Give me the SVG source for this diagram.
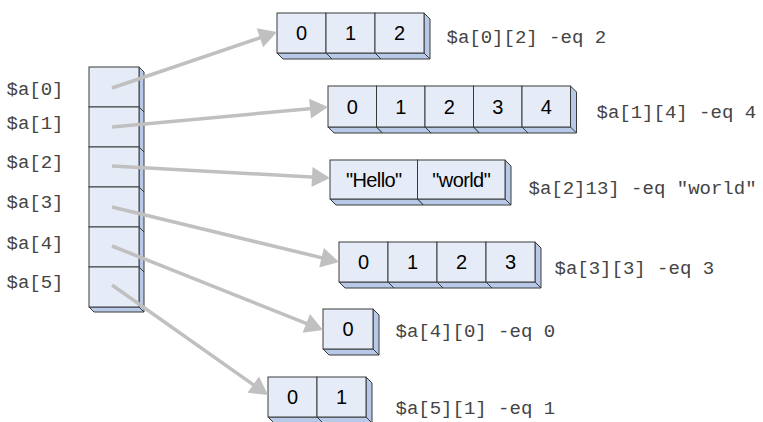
<svg xmlns="http://www.w3.org/2000/svg" xmlns:xlink="http://www.w3.org/1999/xlink" width="763" height="422" viewBox="0 0 763 422">
<style>
.f{fill:#e6ecf7;stroke:#3a3a3a;stroke-width:1}
.s{fill:#b7c9e6;stroke:#3a3a3a;stroke-width:1;stroke-linejoin:miter}
.e{fill:none;stroke:#3a3a3a;stroke-width:1}
.v{font-family:"Liberation Sans",Arial,sans-serif;font-size:20px;fill:#000;text-anchor:middle}
.m{font-family:"Liberation Mono","Courier New",monospace;font-size:19px;fill:#444}
.c{fill:none;stroke:#c0c0c0;stroke-width:3.5}
</style>
<defs>
<marker id="ah" markerUnits="userSpaceOnUse" markerWidth="20" markerHeight="22" refX="8" refY="10" orient="auto" overflow="visible">
<path d="M0,0 L18,10 L0,20 z" fill="#c0c0c0"/>
</marker>
<g id="k50"><path class="s" d="M50,0 L55,5 L55,45 L5,45 L0,40 L50,40 Z"/><path class="e" d="M50,40 L55,45"/><rect class="f" x="0" y="0" width="50" height="40"/></g>
<g id="k49"><path class="s" d="M49,0 L55,6 L55,46 L6,46 L0,40 L49,40 Z"/><path class="e" d="M49,40 L55,46"/><rect class="f" x="0" y="0" width="49" height="40"/></g>
<g id="k48"><path class="s" d="M48.5,0 L54.5,6 L54.5,47 L6,47 L0,41 L48.5,41 Z"/><path class="e" d="M48.5,41 L54.5,47"/><rect class="f" x="0" y="0" width="48.5" height="41"/></g>
<g id="k87"><path class="s" d="M87.5,0 L93.5,6 L93.5,45 L6,45 L0,39 L87.5,39 Z"/><path class="e" d="M87.5,39 L93.5,45"/><rect class="f" x="0" y="0" width="87.5" height="39"/></g>
<g id="k50b"><path class="s" d="M50,0 L56,6 L56,46 L6,46 L0,40 L50,40 Z"/><path class="e" d="M50,40 L56,46"/><rect class="f" x="0" y="0" width="50" height="40"/></g>
</defs>
<rect width="763" height="422" fill="#fff"/>

<g id="a">
<use xlink:href="#k50" x="89" y="67"/>
<use xlink:href="#k50" x="89" y="107"/>
<use xlink:href="#k50" x="89" y="147"/>
<use xlink:href="#k50" x="89" y="187"/>
<use xlink:href="#k50" x="89" y="227"/>
<use xlink:href="#k50" x="89" y="267"/>
<text class="m" x="6.5" y="95">$a[0]</text>
<text class="m" x="6.5" y="129">$a[1]</text>
<text class="m" x="6.5" y="168">$a[2]</text>
<text class="m" x="6.5" y="208">$a[3]</text>
<text class="m" x="6.5" y="249">$a[4]</text>
<text class="m" x="6.5" y="288">$a[5]</text>
</g>

<g id="a0">
<use xlink:href="#k49" x="277" y="13"/>
<use xlink:href="#k49" x="326" y="13"/>
<use xlink:href="#k49" x="375" y="13"/>
<text class="v" x="301.5" y="40.2">0</text>
<text class="v" x="350.5" y="40.2">1</text>
<text class="v" x="399.5" y="40.2">2</text>
<text class="m" x="446.5" y="43">$a[0][2] -eq 2</text>
</g>

<g id="a1">
<use xlink:href="#k48" x="328" y="86"/>
<use xlink:href="#k48" x="376.5" y="86"/>
<use xlink:href="#k48" x="425" y="86"/>
<use xlink:href="#k48" x="473.5" y="86"/>
<use xlink:href="#k48" x="522" y="86"/>
<text class="v" x="352.25" y="113.7">0</text>
<text class="v" x="400.75" y="113.7">1</text>
<text class="v" x="449.25" y="113.7">2</text>
<text class="v" x="497.75" y="113.7">3</text>
<text class="v" x="546.25" y="113.7">4</text>
<text class="m" x="596.5" y="118">$a[1][4] -eq 4</text>
</g>

<g id="a2">
<use xlink:href="#k87" x="330" y="160"/>
<use xlink:href="#k87" x="417.5" y="160"/>
<text class="v" x="373.75" y="186.7" letter-spacing="-0.6">"Hello"</text>
<text class="v" x="461.25" y="186.7" letter-spacing="-0.6">"world"</text>
<text class="m" x="528.5" y="193.5">$a[2]13] -eq "world"</text>
</g>

<g id="a3">
<use xlink:href="#k49" x="339" y="242"/>
<use xlink:href="#k49" x="388" y="242"/>
<use xlink:href="#k49" x="437" y="242"/>
<use xlink:href="#k49" x="486" y="242"/>
<text class="v" x="363.5" y="269.2">0</text>
<text class="v" x="412.5" y="269.2">1</text>
<text class="v" x="461.5" y="269.2">2</text>
<text class="v" x="510.5" y="269.2">3</text>
<text class="m" x="554.5" y="274">$a[3][3] -eq 3</text>
</g>

<g id="a4">
<use xlink:href="#k50b" x="323" y="309"/>
<text class="v" x="348" y="336.2">0</text>
<text class="m" x="395.5" y="337">$a[4][0] -eq 0</text>
</g>

<g id="a5">
<use xlink:href="#k49" x="268" y="377"/>
<use xlink:href="#k49" x="317" y="377"/>
<text class="v" x="292.5" y="404.2">0</text>
<text class="v" x="341.5" y="404.2">1</text>
<text class="m" x="395.5" y="414">$a[5][1] -eq 1</text>
</g>

<g id="connectors">
<line class="c" x1="112" y1="88" x2="267.5" y2="35.2" marker-end="url(#ah)"/>
<line class="c" x1="112" y1="127" x2="318" y2="107.9" marker-end="url(#ah)"/>
<line class="c" x1="112" y1="166" x2="320" y2="177.45" marker-end="url(#ah)"/>
<line class="c" x1="112" y1="207" x2="329.3" y2="259.6" marker-end="url(#ah)"/>
<line class="c" x1="112" y1="246" x2="313.7" y2="326.3" marker-end="url(#ah)"/>
<line class="c" x1="112" y1="285" x2="259.8" y2="389.2" marker-end="url(#ah)"/>
</g>
</svg>
